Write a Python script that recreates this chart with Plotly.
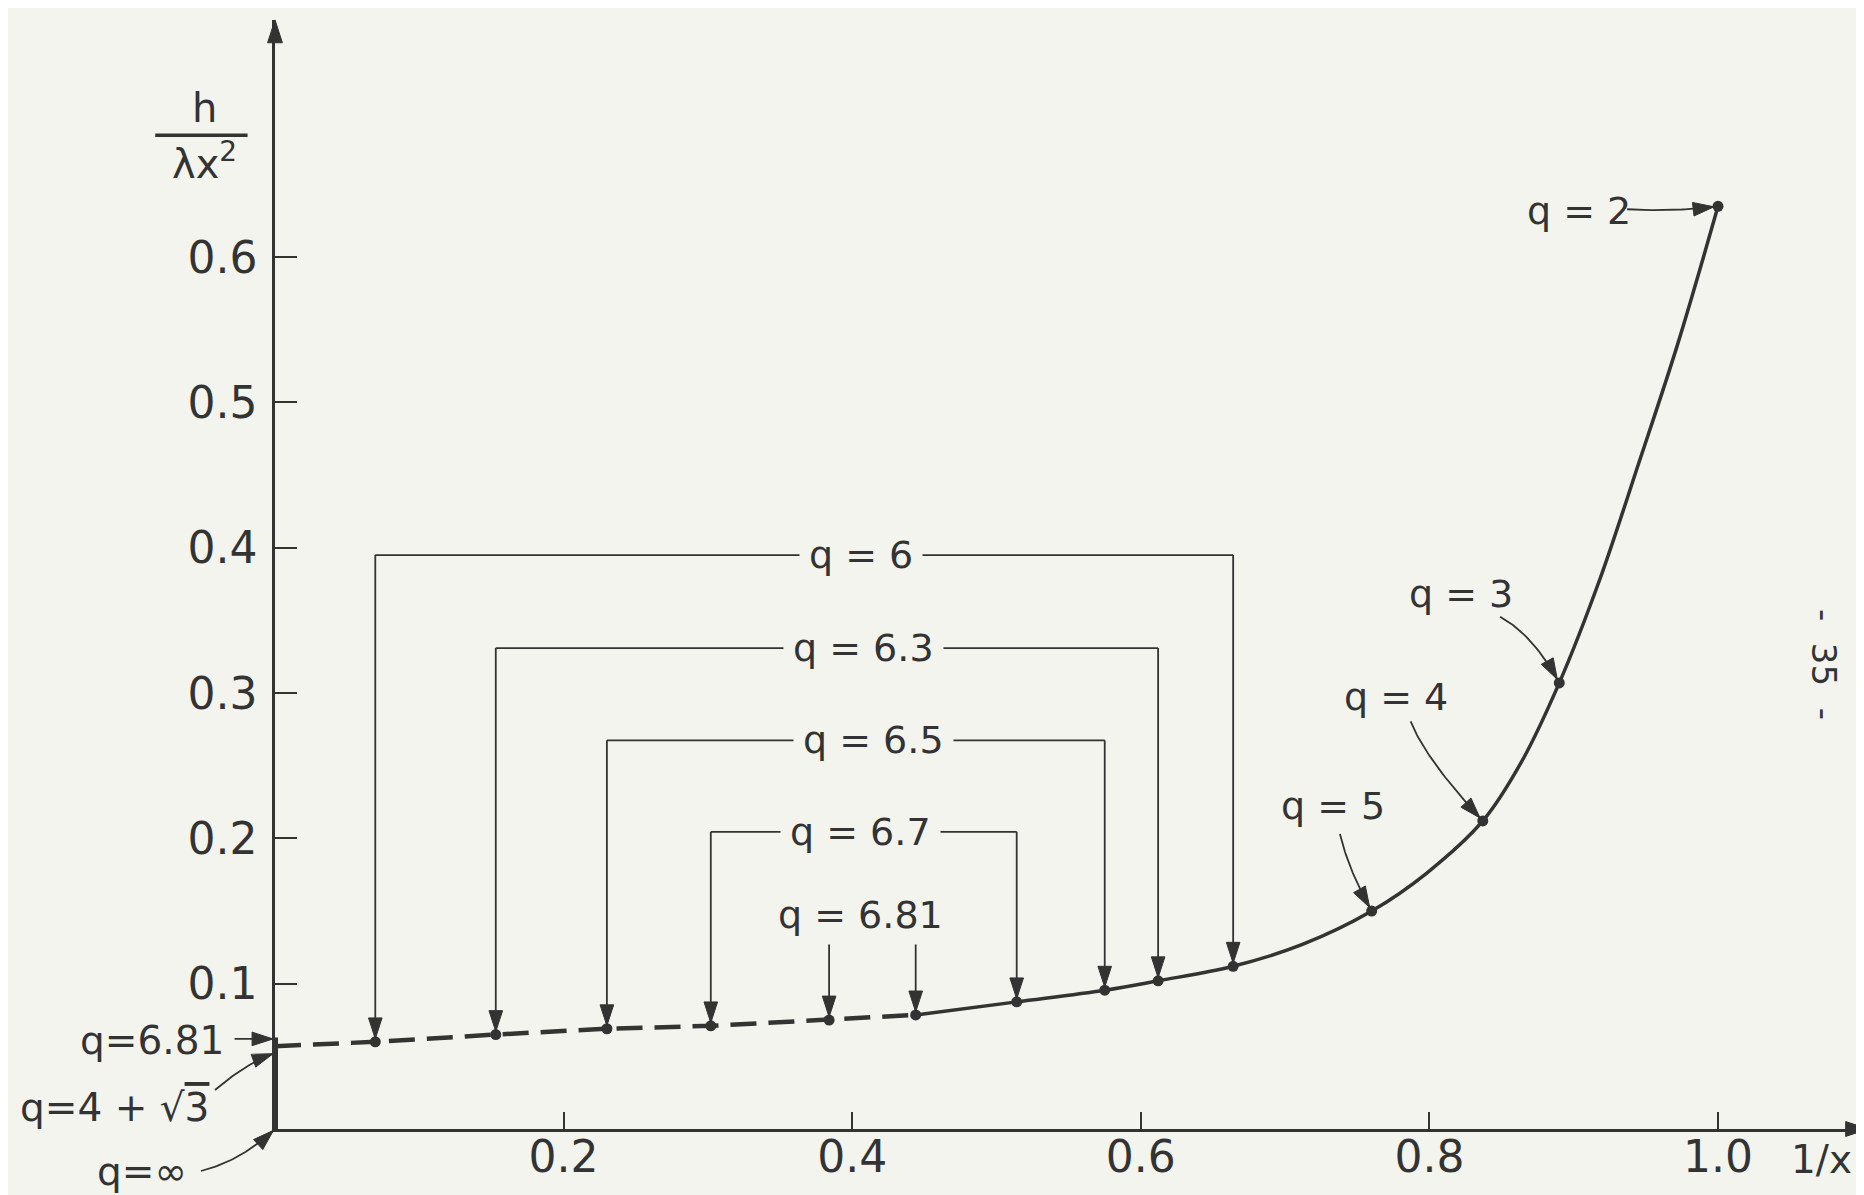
import numpy as np
import plotly.graph_objects as go

# ---------------- data ----------------
# solid part of the curve  (1/x , h/(lambda x^2))
solid_x = [0.444, 0.514, 0.575, 0.612, 0.664, 0.712, 0.760, 0.798, 0.837, 0.864,
           0.890, 0.918, 0.945, 0.972, 1.0]
solid_y = [0.0785, 0.0875, 0.0955, 0.102, 0.112, 0.127, 0.150, 0.176, 0.212, 0.253,
           0.307, 0.378, 0.458, 0.540, 0.635]
# dashed part of the curve
dash_x = [0.0, 0.0695, 0.153, 0.230, 0.302, 0.384, 0.444]
dash_y = [0.057, 0.060, 0.065, 0.069, 0.071, 0.075, 0.0785]

# bracketed pairs of points with the same q
bracket_q = ["q = 6", "q = 6.3", "q = 6.5", "q = 6.7", "q = 6.81"]
bracket_xl = [0.0695, 0.153, 0.230, 0.302, 0.384]
bracket_yl = [0.060, 0.065, 0.069, 0.071, 0.075]
bracket_xr = [0.664, 0.612, 0.575, 0.514, 0.444]
bracket_yr = [0.112, 0.102, 0.0955, 0.0875, 0.0785]
bracket_level = [0.395, 0.331, 0.2675, 0.2045, 0.127]
bracket_joined = [True, True, True, True, False]
bracket_label_x = [0.406, 0.408, 0.415, 0.406, 0.406]
bracket_label_y = [0.395, 0.331, 0.2675, 0.2045, 0.147]

# single labelled points on the right
single_q = ["q = 2", "q = 3", "q = 4", "q = 5"]
single_x = [1.0, 0.890, 0.837, 0.760]
single_y = [0.635, 0.307, 0.212, 0.150]
single_label_x = [0.904, 0.822, 0.777, 0.733]
single_label_y = [0.632, 0.368, 0.297, 0.222]
single_arrow_start = [(0.937, 0.633), (0.849, 0.3526), (0.787, 0.2806), (0.738, 0.203)]
single_arrow_ctrl = [(0.966, 0.631), (0.872, 0.340), (0.797, 0.255), (0.744, 0.178)]

# labels left of the vertical axis
left_q = ["q=6.81", "q=4 + √<span style='text-decoration:overline'>3</span>", "q=∞"]
left_label_x = [-0.085, -0.111, -0.092]
left_label_y = [0.061, 0.0147, -0.029]
left_arrow_start = [(-0.028, 0.062), (-0.0416, 0.0268), (-0.0513, -0.0289)]
left_arrow_ctrl = [(-0.014, 0.062), (-0.020, 0.0454), (-0.0236, -0.022)]
left_arrow_end = [(0.0, 0.062), (0.0, 0.0523), (0.0, 0.0)]
segment_x = [0.0, 0.0]
segment_y = [0.0, 0.063]

x_ticks = [0.2, 0.4, 0.6, 0.8, 1.0]
x_ticklabels = ["0.2", "0.4", "0.6", "0.8", "1.0"]
y_ticks = [0.1, 0.2, 0.3, 0.4, 0.5, 0.6]
y_ticklabels = ["0.1", "0.2", "0.3", "0.4", "0.5", "0.6"]
X_END, Y_END = 1.1043, 0.7633   # tips of the axis arrows

# ---------------- layout constants ----------------
W, H = 1864, 1195
PX0, PY0 = 267.0, 1121.0   # pixel position of the origin
SX, SY = 1443.0, 1453.0    # pixels per data unit
INK = "#333333"
PAPER = "#f4f4ee"
FONT = "DejaVu Sans"


def bez(p0, p1, p2, n=30):
    t = np.linspace(0, 1, n)
    xs = (1 - t) ** 2 * p0[0] + 2 * (1 - t) * t * p1[0] + t ** 2 * p2[0]
    ys = (1 - t) ** 2 * p0[1] + 2 * (1 - t) * t * p1[1] + t ** 2 * p2[1]
    return list(xs), list(ys)


def arrow(fig, xs, ys, size=22, width=1.8, standoff=0):
    if width > 0:
        fig.add_trace(go.Scatter(x=xs, y=ys, xaxis="x2", yaxis="y2", mode="lines",
                                 line=dict(color=INK, width=width), hoverinfo="skip"))
    fig.add_trace(go.Scatter(
        x=xs[-2:], y=ys[-2:], xaxis="x2", yaxis="y2", mode="markers",
        marker=dict(symbol="arrow", size=[0, size], angleref="previous", opacity=1,
                    color=INK, standoff=standoff, line=dict(width=1, color=INK)),
        hoverinfo="skip", cliponaxis=False))


fig = go.Figure()

# curve
fig.add_trace(go.Scatter(x=dash_x, y=dash_y, mode="lines", line=dict(color=INK, width=4.5, dash="26px,12px"),
                         hoverinfo="skip", cliponaxis=False))
fig.add_trace(go.Scatter(x=solid_x, y=solid_y, mode="lines", line=dict(color=INK, width=3.5, shape="spline"),
                         hoverinfo="skip", cliponaxis=False))

# thick vertical segment on the axis
fig.add_trace(go.Scatter(x=segment_x, y=segment_y, xaxis="x2", yaxis="y2", mode="lines",
                         line=dict(color=INK, width=6), hoverinfo="skip"))

annotations = []

# brackets
hx, hy = [], []
for i in range(len(bracket_q)):
    lvl = bracket_level[i]
    if bracket_joined[i]:
        hx += [bracket_xl[i], bracket_xr[i], None]
        hy += [lvl, lvl, None]
    arrow(fig, [bracket_xl[i], bracket_xl[i]], [lvl, bracket_yl[i]], standoff=3)
    arrow(fig, [bracket_xr[i], bracket_xr[i]], [lvl, bracket_yr[i]], standoff=3)
    ann = dict(x=bracket_label_x[i], y=bracket_label_y[i], xref="x2", yref="y2",
               text=bracket_q[i], showarrow=False, borderpad=9,
               font=dict(family=FONT, size=38, color=INK))
    if bracket_joined[i]:
        ann["bgcolor"] = PAPER
    annotations.append(ann)
fig.add_trace(go.Scatter(x=hx, y=hy, xaxis="x2", yaxis="y2", mode="lines",
                         line=dict(color=INK, width=1.8), hoverinfo="skip"))

# right labels with curved arrows
for i in range(len(single_q)):
    xs, ys = bez(single_arrow_start[i], single_arrow_ctrl[i], (single_x[i], single_y[i]))
    arrow(fig, xs, ys, standoff=4)
    annotations.append(dict(x=single_label_x[i], y=single_label_y[i], xref="x2", yref="y2",
                            text=single_q[i], showarrow=False, font=dict(family=FONT, size=38, color=INK)))

# left labels
for i in range(len(left_q)):
    xs, ys = bez(left_arrow_start[i], left_arrow_ctrl[i], left_arrow_end[i])
    arrow(fig, xs, ys, standoff=2)
    annotations.append(dict(x=left_label_x[i], y=left_label_y[i], xref="x2", yref="y2",
                            text=left_q[i], showarrow=False, font=dict(family=FONT, size=39, color=INK)))

# dots on the curve
dot_x = bracket_xl + bracket_xr + single_x
dot_y = bracket_yl + bracket_yr + single_y
fig.add_trace(go.Scatter(x=dot_x, y=dot_y, mode="markers", marker=dict(color=INK, size=11),
                         hoverinfo="skip", cliponaxis=False))

# axis arrow heads
arrow(fig, [0, 0], [Y_END - 0.03, Y_END], size=24, width=0)
arrow(fig, [X_END - 0.03, X_END], [0, 0], size=24, width=0)

# axis titles and page number
annotations.append(dict(x=-0.049, y=0.703, xref="x2", yref="y2", text="h", showarrow=False,
                        font=dict(family=FONT, size=40, color=INK)))
annotations.append(dict(x=-0.049, y=0.666, xref="x2", yref="y2", text="λx<sup>2</sup>", showarrow=False,
                        font=dict(family=FONT, size=40, color=INK)))
fig.add_trace(go.Scatter(x=[-0.0830, -0.0190], y=[0.684, 0.684], xaxis="x2", yaxis="y2", mode="lines",
                         line=dict(color=INK, width=3.5), hoverinfo="skip"))
annotations.append(dict(x=1.094, y=-0.021, xref="x2", yref="y2", text="1/x", showarrow=False,
                        xanchor="right", font=dict(family=FONT, size=39, color=INK)))
annotations.append(dict(x=1.0735, y=0.320, xref="x2", yref="y2", text="-  35  -", showarrow=False,
                        textangle=90, font=dict(family=FONT, size=34, color=INK)))

axis_common = dict(showline=True, linecolor=INK, linewidth=2.5, ticks="inside", tickwidth=2,
                   tickcolor=INK, tickfont=dict(family=FONT, size=44, color=INK),
                   showgrid=False, zeroline=False, fixedrange=True)

fig.update_layout(
    width=W, height=H, margin=dict(l=0, r=0, t=0, b=0),
    paper_bgcolor=PAPER, plot_bgcolor="rgba(0,0,0,0)", showlegend=False,
    xaxis=dict(domain=[PX0 / W, (PX0 + X_END * SX) / W], range=[0, X_END], anchor="y",
               tickvals=x_ticks, ticktext=x_ticklabels, ticklen=17, ticklabelstandoff=-13, **axis_common),
    yaxis=dict(domain=[(H - PY0) / H, (H - (PY0 - Y_END * SY)) / H], range=[0, Y_END], anchor="x",
               tickvals=y_ticks, ticktext=y_ticklabels, ticklen=22, ticklabelstandoff=6, **axis_common),
    xaxis2=dict(domain=[0, 1], range=[-PX0 / SX, (W - PX0) / SX], visible=False, anchor="y2", fixedrange=True),
    yaxis2=dict(domain=[0, 1], range=[-(H - PY0) / SY, PY0 / SY], visible=False, anchor="x2", fixedrange=True),
    annotations=annotations,
)

fig.write_html("out.html")
